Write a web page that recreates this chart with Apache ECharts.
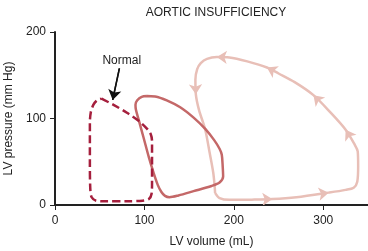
<!DOCTYPE html>
<html>
<head>
<meta charset="utf-8">
<script src="https://cdn.jsdelivr.net/npm/echarts@6/dist/echarts.min.js"></script>
<style>
html,body{margin:0;padding:0;background:#fff;}
#c{width:368px;height:251px;}
</style>
</head>
<body>
<div id="c"></div>
<script>
// ---- data (LV volume mL, LV pressure mm Hg) ----
var titleText = 'AORTIC INSUFFICIENCY';
var xName = 'LV volume (mL)';
var yName = 'LV pressure (mm Hg)';
var xTicks = [0, 100, 200, 300];
var yTicks = [0, 100, 200];

var normalLoop = [[52,123],[65,116],[80,107],[95,96],[103,88],[107,82],[108.5,74],[108.5,50],[108.5,25],[108,13],[105,7],[98,5],[80,4.3],[56,4.3],[46,5],[41,9],[39.5,18],[39,50],[39,95],[40,107],[43,116],[47,121],[52,123]];

var aiLoop = [[102.7,126],[112,125.5],[125,121],[140,113],[155,101],[168,88],[178,75],[184,65],[186.5,58],[187.5,45],[188,33],[184,26],[175,22],[155,16],[138,11],[128,9],[123,10.5],[119,15],[115,23],[110,38],[105,55],[99,78],[94,97],[90.5,110],[90,116],[92,121],[97,125],[102.7,126]];

var chronicLoop = [[179,14],[184,8],[195,6],[220,6.2],[243,6.8],[270,9],[306,14.3],[325,17.5],[334,20],[338,27],[339,45],[338.5,62],[335,70],[325,87],[308,107],[289,127],[268,142],[250,152],[237,159],[215,166],[195,170.5],[181,171],[170,169],[163,164],[159,157],[157,145],[157.5,128],[161,110],[168,87],[173,60],[177,37],[178.5,22],[179,14]];
// indices in chronicLoop where direction arrows sit
var chronicArrowIdx = [4, 6, 13, 15, 18, 21, 26];

var normalLabel = 'Normal';
var normalLabelPos = [74.6, 167];
var normalPointer = [[72, 158], [64.5, 121.5]];

// ---- build ----
var cNormal = '#a51f3d', cAI = '#c46868', cChronic = '#e8bfb7', ink = '#222';
var font = '"Liberation Sans", Arial, sans-serif';

var arrowSegs = chronicArrowIdx.map(function(i){
  return {coords: [chronicLoop[i-1], chronicLoop[i]]};
});

var chart = echarts.init(document.getElementById('c'), null, {renderer:'canvas'});
chart.setOption({
  animation: false,
  title: {
    text: titleText, left: 211, top: 2, textAlign: 'center',
    textStyle: {fontSize: 12, fontWeight: 'normal', color: ink, fontFamily: font}
  },
  grid: {left: 55, right: 0, top: 32, bottom: 46, containLabel: false, outerBoundsMode: 'none'},
  xAxis: {
    type: 'value', min: 0, max: 350, interval: 100,
    name: xName, nameLocation: 'middle', nameGap: 31,
    nameTextStyle: {fontSize: 12, color: ink, fontFamily: font},
    axisLine: {show: true, onZero: false, lineStyle: {color: ink, width: 2}},
    axisTick: {show: true, length: 5, lineStyle: {color: ink, width: 1}, customValues: xTicks},
    axisLabel: {fontSize: 12, color: ink, fontFamily: font, margin: 10, customValues: xTicks},
    splitLine: {show: false}
  },
  yAxis: {
    type: 'value', min: 0, max: 200, interval: 100,
    name: yName, nameLocation: 'middle', nameGap: 39,
    nameTextStyle: {fontSize: 12, color: ink, fontFamily: font},
    axisLine: {show: true, onZero: false, lineStyle: {color: ink, width: 2}},
    axisTick: {show: true, length: 5, lineStyle: {color: ink, width: 1}, customValues: yTicks},
    axisLabel: {fontSize: 12, color: ink, fontFamily: font, margin: 9, customValues: yTicks},
    splitLine: {show: false}
  },
  series: [
    {type: 'line', data: chronicLoop, smooth: 0.3, symbol: 'none',
     lineStyle: {color: cChronic, width: 2.5}, z: 2},
    {type: 'lines', coordinateSystem: 'cartesian2d', data: arrowSegs,
     symbol: ['none', 'arrow'], symbolSize: [0, 10],
     lineStyle: {color: cChronic, width: 0.01, opacity: 1}, itemStyle: {color: cChronic}, z: 3},
    {type: 'line', data: aiLoop, smooth: 0.3, symbol: 'none',
     lineStyle: {color: cAI, width: 2.5}, z: 4},
    {type: 'line', data: normalLoop, smooth: 0.3, symbol: 'none',
     lineStyle: {color: cNormal, width: 2.5, type: [8, 4]}, z: 5},
    {type: 'line', data: normalPointer, smooth: false, symbol: 'none', silent: true,
     lineStyle: {color: '#111', width: 1.5, type: 'solid'}, z: 6},
    {type: 'lines', coordinateSystem: 'cartesian2d', data: [{coords: normalPointer}],
     symbol: ['none', 'arrow'], symbolSize: [0, 10], silent: true,
     lineStyle: {color: '#111', width: 1.5, opacity: 1}, itemStyle: {color: '#111'}, z: 6},
    {type: 'scatter', data: [normalLabelPos], symbolSize: 0, silent: true,
     itemStyle: {opacity: 1},
     label: {show: true, position: 'inside', formatter: normalLabel, fontSize: 12, color: ink, opacity: 1, fontFamily: font}, z: 7}
  ]
});
</script>
</body>
</html>
